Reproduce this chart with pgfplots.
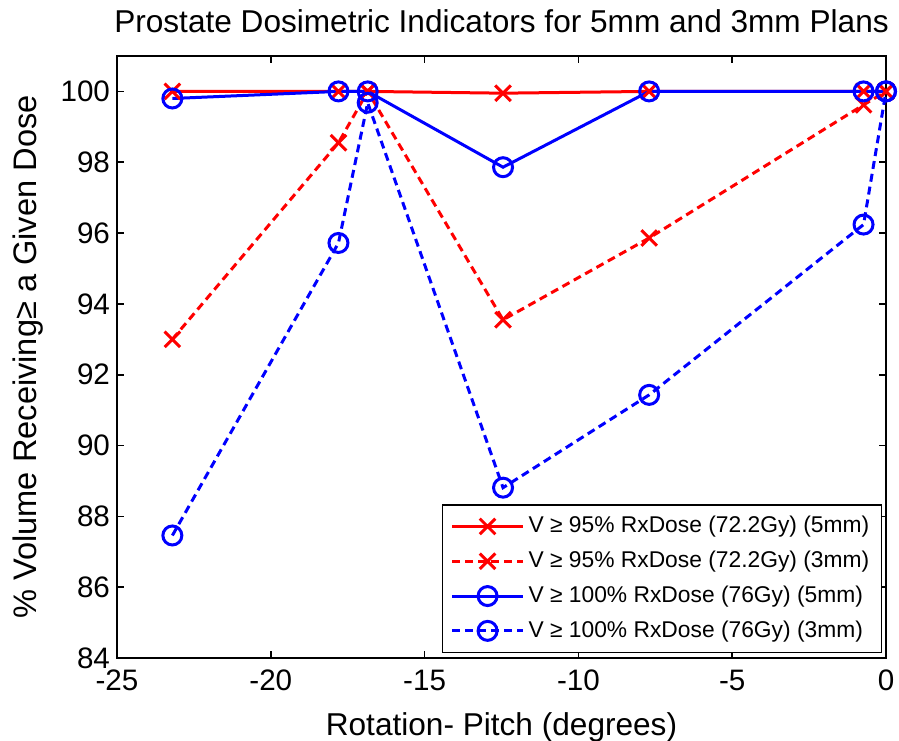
\documentclass[border=0pt]{standalone}
\usepackage{fontspec}
\setmainfont{Liberation Sans}
\usepackage{pgfplots}
\pgfplotsset{compat=1.18}

\begin{document}
\begin{tikzpicture}
\useasboundingbox (-58.5pt,-41pt) rectangle (391pt,329pt);
\begin{axis}[
  scale only axis, width=384.5pt, height=301pt,
  xmin=-25, xmax=0, ymin=84, ymax=101,
  xtick={-25,-20,...,0}, ytick={84,86,...,100},
  tick align=inside, major tick length=3.5pt,
  axis line style={line width=1pt},
  every tick/.style={black, line width=0.8pt},
  ticklabel style={font=\fontsize{14.8}{17}\selectfont},
  xticklabel style={yshift=-2.5pt},
  /pgf/number format/assume math mode=true,
  clip=false,
  title={Prostate Dosimetric Indicators for 5mm and 3mm Plans},
  every axis title/.style={at={([yshift=11.5pt]axis description cs:0.5,1)},
    anchor=base, font=\fontsize{15.8}{18}\selectfont},
  xlabel={Rotation- Pitch (degrees)},
  xlabel style={at={([yshift=-38.5pt]axis description cs:0.5,0)}, anchor=base,
    font=\fontsize{15.8}{18}\selectfont},
  ylabel={\% Volume Receiving≥ a Given Dose},
  ylabel style={at={([xshift=-40pt]axis description cs:0,0.5)}, anchor=base,
    font=\fontsize{16.3}{19}\selectfont},
  legend style={at={(0.9948,0.0083)}, anchor=south east, draw=black,
    line width=0.75pt, font=\fontsize{11.4}{14}\selectfont,
    inner xsep=4pt, inner ysep=2pt,
    nodes={text height=8.8pt, text depth=2.6pt, inner ysep=3pt}},
  legend cell align=left,
  legend image code/.code={\draw[mark repeat=2,mark phase=2]
    plot coordinates {(0pt,0pt)(17.75pt,0pt)(35.5pt,0pt)};},
]
% V >= 95% RxDose, 5mm
\addplot[red, line width=1.5pt, mark=x, mark size=5.5pt, mark options={solid}]
  coordinates {(-23.2,100)(-17.8,100)(-16.85,100)(-12.45,99.95)(-7.7,100)(-0.73,100)(0,100)};
% V >= 95% RxDose, 3mm
\addplot[red, line width=1.5pt, dash pattern=on 4pt off 2.5pt, mark=x, mark size=5.5pt, mark options={solid}]
  coordinates {(-23.2,93.0)(-17.8,98.55)(-16.85,100)(-12.45,93.55)(-7.7,95.86)(-0.73,99.62)(0,100)};
% V >= 100% RxDose, 5mm
\addplot[blue, line width=1.5pt, mark=o, mark size=4.75pt, mark options={solid}]
  coordinates {(-23.2,99.8)(-17.8,100)(-16.85,100)(-12.45,97.86)(-7.7,100)(-0.73,100)(0,100)};
% V >= 100% RxDose, 3mm
\addplot[blue, line width=1.5pt, dash pattern=on 4pt off 2.5pt, mark=o, mark size=4.75pt, mark options={solid}]
  coordinates {(-23.2,87.46)(-17.8,95.72)(-16.85,99.68)(-12.45,88.81)(-7.7,91.43)(-0.73,96.24)(0,100)};
\legend{V ≥ 95\% RxDose (72.2Gy) (5mm),
        V ≥ 95\% RxDose (72.2Gy) (3mm),
        V ≥ 100\% RxDose (76Gy) (5mm),
        V ≥ 100\% RxDose (76Gy) (3mm)}
\end{axis}
\end{tikzpicture}
\end{document}
